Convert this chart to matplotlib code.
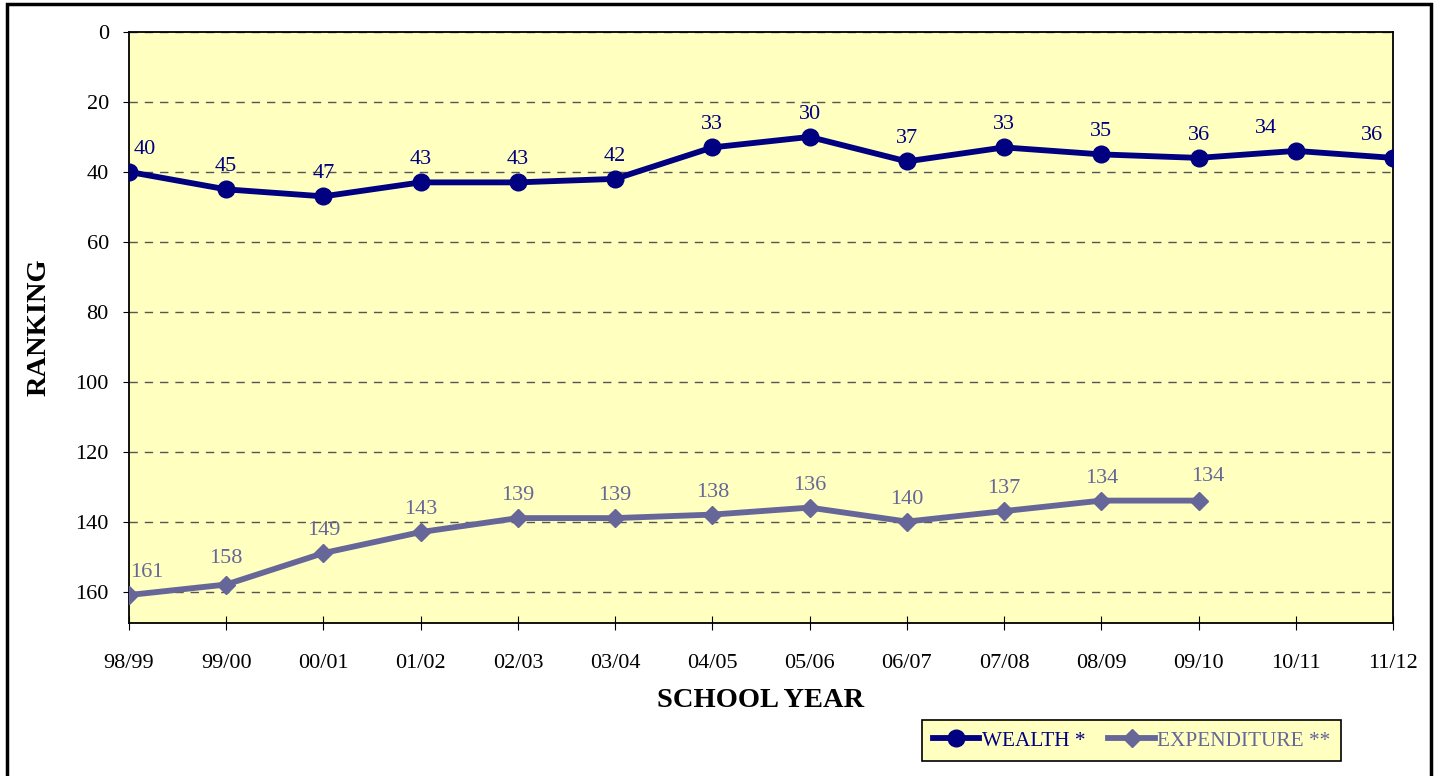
import matplotlib.pyplot as plt
from matplotlib.patches import Rectangle
from matplotlib.lines import Line2D

years = ['98/99', '99/00', '00/01', '01/02', '02/03', '03/04', '04/05',
         '05/06', '06/07', '07/08', '08/09', '09/10', '10/11', '11/12']
wealth = [40, 45, 47, 43, 43, 42, 33, 30, 37, 33, 35, 36, 34, 36]
expenditure = [161, 158, 149, 143, 139, 139, 138, 136, 140, 137, 134, 134]

navy = '#000080'
slate = '#666699'

plt.rcParams['font.family'] = ['Liberation Serif', 'DejaVu Serif']

fig = plt.figure(figsize=(14.39, 7.76), dpi=100)
ax = fig.add_axes([129 / 1439, 1 - 623 / 776, (1393 - 129) / 1439, (623 - 32) / 776])
ax.set_facecolor('#FFFFC0')

# outer frame of the chart
fig.patches.append(Rectangle((7 / 1439, -0.05), (1431 - 7) / 1439, 1.05 - 4 / 776,
                             transform=fig.transFigure, fill=False,
                             edgecolor='black', linewidth=2.5))

x = list(range(len(years)))
ax.plot(x, wealth, color=navy, lw=4.2, marker='o', ms=12, zorder=3)
ax.plot(x[:len(expenditure)], expenditure, color=slate, lw=4.2, marker='D',
        ms=9.5, zorder=3)

# data labels (pixel offsets relative to the point)
w_off = {0: (16, 0), 12: (-30, 0), 13: (-21, 0)}
for i, v in enumerate(wealth):
    dx, dy = w_off.get(i, (0, 0))
    ax.annotate(str(v), (i, v), xytext=(dx, 13 + dy), textcoords='offset pixels',
                ha='center', va='bottom', fontsize=16, color=navy)

e_off = {0: (18, 0), 1: (0, 4), 11: (9, 2)}
for i, v in enumerate(expenditure):
    dx, dy = e_off.get(i, (0, 0))
    ax.annotate(str(v), (i, v), xytext=(dx, 13 + dy), textcoords='offset pixels',
                ha='center', va='bottom', fontsize=16, color=slate)

ax.set_xlim(0, len(years) - 1)
ax.set_ylim(169, 0)
ax.set_yticks(range(0, 161, 20))
ax.set_xticks(x)
ax.set_xticklabels(years)
ax.tick_params(axis='y', direction='out', length=4.5, labelsize=16, pad=10)
ax.tick_params(axis='x', direction='inout', length=10, labelsize=16, pad=17)
ax.grid(axis='y', color='#555555', linestyle=(0, (6, 5)), linewidth=1)
for s in ax.spines.values():
    s.set_linewidth(1.3)

ax.set_ylabel('RANKING', fontsize=20.5, fontweight='bold')
ax.yaxis.set_label_coords(-0.061, 0.5)
ax.set_xlabel('SCHOOL YEAR', fontsize=20.5, fontweight='bold')
ax.xaxis.set_label_coords(0.5, -0.11)

handles = [Line2D([], [], color=navy, lw=4.2, marker='o', ms=12),
           Line2D([], [], color=slate, lw=4.2, marker='D', ms=9.5)]
leg = fig.legend(handles, ['WEALTH *', 'EXPENDITURE **'], loc='upper left',
                 bbox_to_anchor=(922 / 1439, 1 - 720 / 776), ncol=2,
                 fontsize=15.3, frameon=True, fancybox=False, framealpha=1,
                 facecolor='#FFFFC0', edgecolor='black', handlelength=2.2,
                 handletextpad=0.1, columnspacing=1.1, borderpad=0.5,
                 borderaxespad=0)
leg.get_frame().set_linewidth(1.2)
for t, c in zip(leg.get_texts(), [navy, slate]):
    t.set_color(c)

fig.savefig('out.png', dpi=100)
